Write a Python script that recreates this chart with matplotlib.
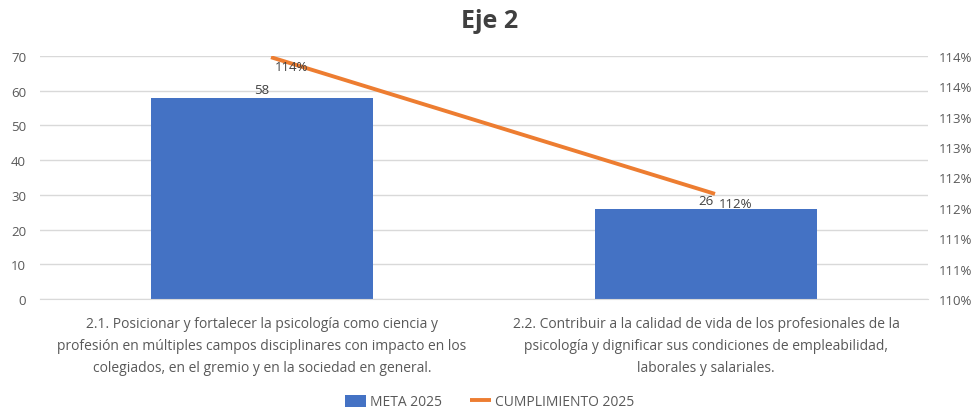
import math
import matplotlib
matplotlib.use("Agg")
import matplotlib.pyplot as plt
import matplotlib.transforms as mtransforms
from matplotlib.ticker import FuncFormatter, MultipleLocator

categories = [
    "2.1. Posicionar y fortalecer la psicología como ciencia y\nprofesión en múltiples campos disciplinares con impacto en los\ncolegiados, en el gremio y en la sociedad en general.",
    "2.2. Contribuir a la calidad de vida de los profesionales de la\npsicología y dignificar sus condiciones de empleabilidad,\nlaborales y salariales.",
]
meta_2025 = [58, 26]
cumplimiento_2025 = [113.98, 111.73]  # percent

BAR = "#4472C4"
LINE = "#ED7D31"
TXT = "#595959"
GRID = "#D9D9D9"

plt.rcParams["font.family"] = ["Open Sans", "DejaVu Sans"]

fig = plt.figure(figsize=(9.79, 4.10), dpi=100)
ax = fig.add_axes([40/979, 1 - 300/410, (928-40)/979, (300-57)/410])
ax2 = ax.twinx()

x = list(range(len(categories)))
bars = ax.bar(x, meta_2025, width=0.5, color=BAR, zorder=2, label="META 2025")
ax.set_xlim(-0.5, 1.5)
ax.set_ylim(0, 70)
ax.yaxis.set_major_locator(MultipleLocator(10))
ax.grid(axis="y", color=GRID, linewidth=1, zorder=0)
ax.set_axisbelow(True)
for s in ["top", "left", "right"]:
    ax.spines[s].set_visible(False)
ax.spines["bottom"].set_color(GRID)
ax.tick_params(axis="y", length=0, labelsize=9.5, labelcolor=TXT, pad=10)
ax.tick_params(axis="x", length=0, labelsize=10, labelcolor=TXT, pad=12)
ax.set_xticks(x)
ax.set_xticklabels(categories, linespacing=1.65)

for xi, v in zip(x, meta_2025):
    ax.annotate(f"{v}", (xi, v), xytext=(0, 1), textcoords="offset points",
                ha="center", va="bottom", fontsize=9.5, color="#404040")

# the line in the reference sits slightly right of the bar centres
shift = mtransforms.offset_copy(ax2.transData, fig=fig, x=9, y=0, units="dots")
ax2.plot(x, cumplimiento_2025, color=LINE, linewidth=2.8, zorder=3, label="CUMPLIMIENTO 2025",
         solid_capstyle="butt", transform=shift)
ax2.set_ylim(110, 114)
ax2.yaxis.set_major_locator(MultipleLocator(0.5))
ax2.yaxis.set_major_formatter(FuncFormatter(lambda v, p: f"{math.floor(v + 0.5 + 1e-9)}%"))
ax2.tick_params(axis="y", length=0, labelsize=9.5, labelcolor=TXT, pad=8)
for s in ["top", "left", "right", "bottom"]:
    ax2.spines[s].set_visible(False)
for xi, v in zip(x, cumplimiento_2025):
    ax2.annotate(f"{math.floor(v + 0.5)}%", (xi, v), xytext=(9, -2), textcoords="offset points",
                 ha="left", va="top", fontsize=9.5, color="#404040")

fig.text(0.5, 1 - 21/410, "Eje 2", ha="center", va="center", fontsize=18,
         fontweight="bold", color="#404040")

h1, l1 = ax.get_legend_handles_labels()
h2, l2 = ax2.get_legend_handles_labels()
fig.legend(h1 + h2, l1 + l2, loc="center", bbox_to_anchor=(0.5, 1 - 403/410), ncol=2,
           frameon=False, fontsize=10, labelcolor=TXT, handlelength=1.5, handleheight=1.0,
           columnspacing=2.0, handletextpad=0.3)

fig.savefig("out.png", dpi=100, facecolor="white")
